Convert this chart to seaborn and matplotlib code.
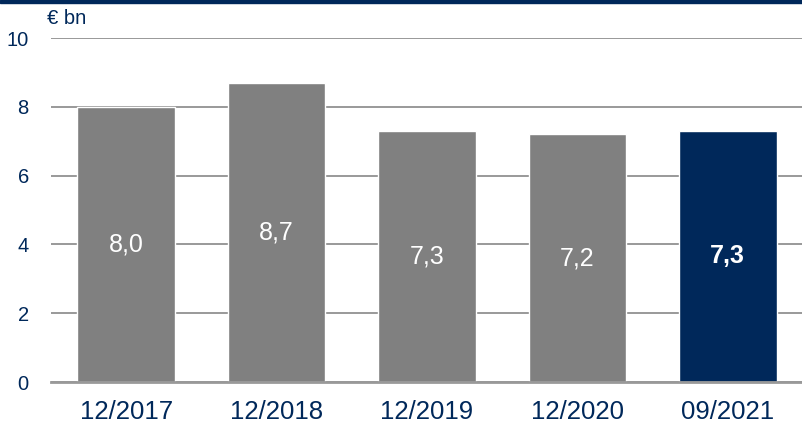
import matplotlib.pyplot as plt
import numpy as np
import pandas as pd
import seaborn as sns

#%% Data
periods = ['12/2017', '12/2018', '12/2019', '12/2020', '09/2021']
values = [8.0, 8.7, 7.3, 7.2, 7.3]
value_labels = ['8,0', '8,7', '7,3', '7,2', '7,3']
y_ticks = [0, 2, 4, 6, 8, 10]

navy = '#00285a'
grey = '#808080'
bar_colors = [grey, grey, grey, grey, navy]

data = pd.DataFrame({'period': periods, 'value': values})

#%% Figure
sns.set_style("white")
plt.rcParams['font.family'] = ['Liberation Sans', 'DejaVu Sans']

fig = plt.figure(figsize=(8.03, 4.26), dpi=100)
ax = fig.add_axes([51 / 803, 1 - 382 / 426, 752 / 803, (382 - 38) / 426])

ax.yaxis.grid(True, color='#999999', linewidth=1.4)
ax.set_axisbelow(True)

sns.barplot(data=data, x='period', y='value', hue='period',
            palette=bar_colors, legend=False, width=0.65,
            saturation=1, ax=ax)

# value labels inside the bars
for i, (v, lab) in enumerate(zip(values, value_labels)):
    bold = i == len(values) - 1
    ax.text(i, v / 2, lab, ha='center', va='center', color='white',
            fontsize=18, fontweight='bold' if bold else 'normal')

ax.set_xlim(-0.5, 4.5)
ax.set_ylim(0, 10)
ax.set_yticks(y_ticks)
ax.set_xlabel('')
ax.set_ylabel('')

for s in ['top', 'right', 'left']:
    ax.spines[s].set_visible(False)
ax.spines['bottom'].set_color('#999999')
ax.spines['bottom'].set_linewidth(2)

# ticks on the category boundaries
ax.set_xticks(np.arange(-0.5, 5, 1), minor=True)
ax.tick_params(axis='x', which='minor', length=6, width=2, color='#999999', direction='out')
ax.tick_params(axis='x', which='major', length=0, pad=13, labelsize=18.5, labelcolor=navy)
ax.tick_params(axis='y', length=0, pad=16, labelsize=14.5, labelcolor=navy)

fig.text(47 / 803, 1 - 19 / 426, '€ bn', ha='left', va='center', fontsize=14.5, color=navy)

# dark band along the top edge
fig.patches.append(plt.Rectangle((0, 1 - 3 / 426), 1, 3 / 426, transform=fig.transFigure,
                                 color=navy, zorder=10))

fig.savefig('out.png', dpi=100)
